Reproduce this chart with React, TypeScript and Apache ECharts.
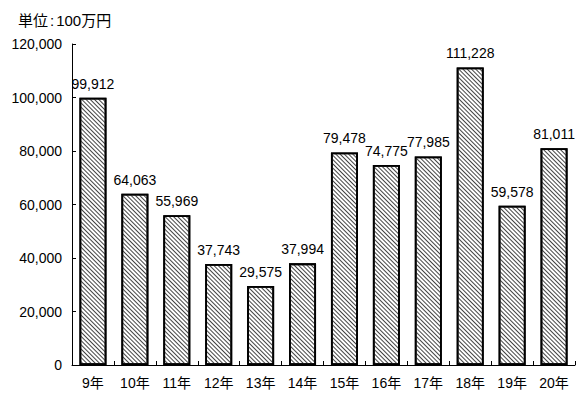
import React, { useEffect, useRef } from "react";
import * as echarts from "echarts";

const categories = ["9年", "10年", "11年", "12年", "13年", "14年", "15年", "16年", "17年", "18年", "19年", "20年"];
const values = [99912, 64063, 55969, 37743, 29575, 37994, 79478, 74775, 77985, 111228, 59578, 81011];
const unitLabel = "{a|単位}{b|:}{c|100}{a|万円}";

const fmt = (v: number) => v.toLocaleString("en-US");
const FONT = "'Liberation Sans', Arial, 'Noto Sans CJK JP', sans-serif";

export default function App() {
  const ref = useRef<HTMLDivElement>(null);
  useEffect(() => {
    const chart = echarts.init(ref.current!, null, { renderer: "svg" });
    chart.setOption({
      animation: false,
      backgroundColor: "#fff",
      grid: { left: 72, right: 5, top: 44, bottom: 28, containLabel: false },
      graphic: [
        {
          type: "text",
          left: 18,
          top: 13,
          style: {
            text: unitLabel,
            fill: "#000",
            rich: {
              a: { fontSize: 15, fontFamily: FONT, fill: "#000" },
              b: { fontSize: 15, fontFamily: FONT, fill: "#000", padding: [0, 2, 0, 2] },
              c: { fontSize: 15, fontFamily: FONT, fill: "#000" },
            },
          },
        },
      ],
      xAxis: {
        type: "category",
        data: categories,
        axisLine: { lineStyle: { color: "#000", width: 1 } },
        axisTick: { show: true, inside: true, length: 4, lineStyle: { color: "#000" } },
        axisLabel: { color: "#000", fontSize: 14, fontFamily: FONT, margin: 11 },
      },
      yAxis: {
        type: "value",
        min: 0,
        max: 120000,
        interval: 20000,
        axisLine: { show: true, lineStyle: { color: "#000", width: 1 } },
        axisTick: { show: true, inside: true, length: 4, lineStyle: { color: "#000" } },
        splitLine: { show: false },
        axisLabel: { color: "#000", fontSize: 14, fontFamily: FONT, margin: 10, formatter: (v: number) => fmt(v) },
      },
      series: [
        {
          type: "bar",
          data: values,
          barWidth: 27,
          itemStyle: {
            color: "#fff",
            borderColor: "#000",
            borderWidth: 1.8,
            decal: {
              symbol: "rect",
              symbolSize: 1,
              color: "#444",
              backgroundColor: "#fff",
              dashArrayX: [1, 0],
              dashArrayY: [0.9, 2],
              rotation: Math.PI / 4,
            },
          },
          label: {
            show: true,
            position: "top",
            distance: 7,
            color: "#000",
            fontSize: 14,
            fontFamily: FONT,
            formatter: (p: any) => fmt(p.value),
          },
        },
      ],
    });
    return () => chart.dispose();
  }, []);
  return <div ref={ref} style={{ width: 580, height: 393, position: "absolute", left: 0, top: 0 }} />;
}
